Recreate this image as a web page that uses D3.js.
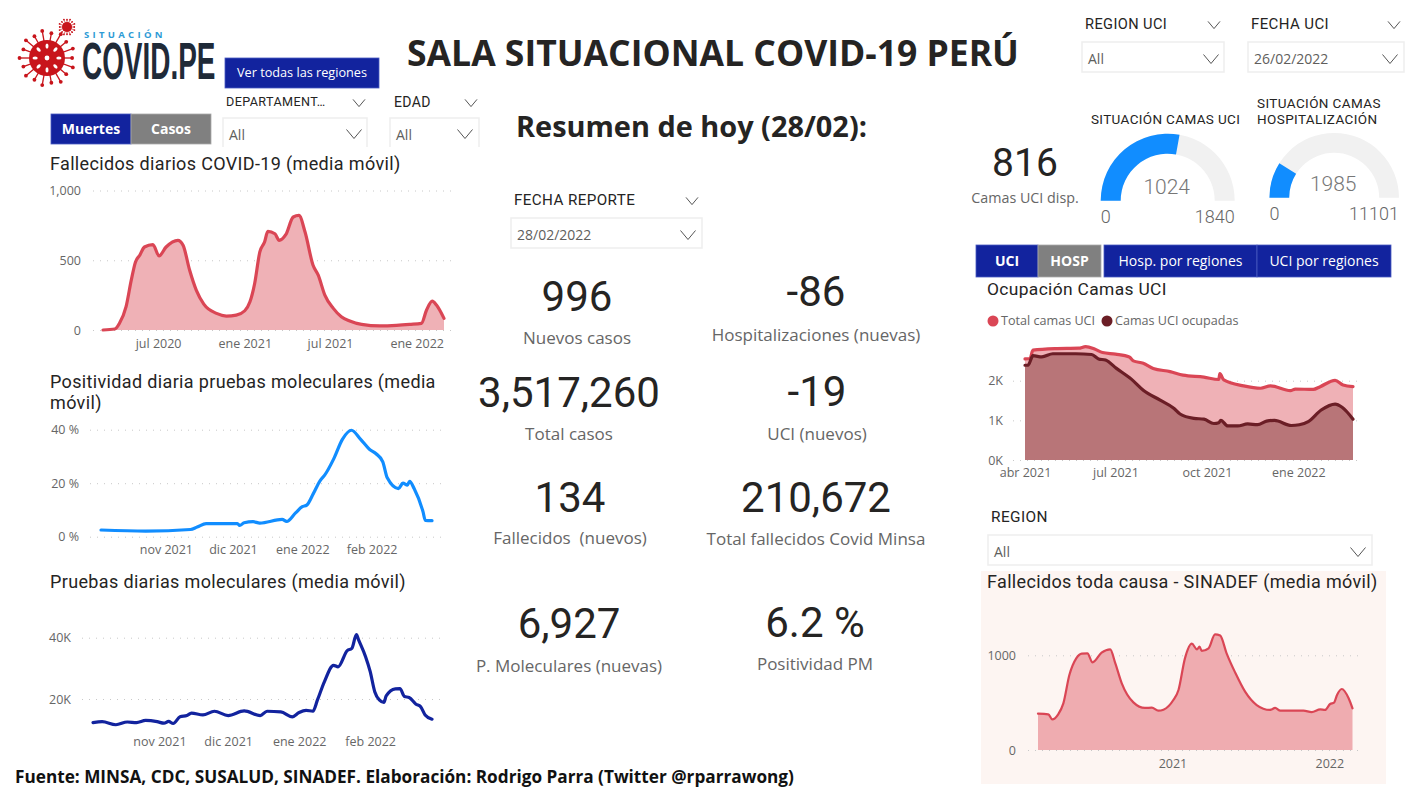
<!DOCTYPE html>
<meta charset="utf-8">
<style>
  html, body { margin: 0; background: #fff; overflow: hidden; }
  text { font-family: "Open Sans", "Noto Sans", sans-serif; }
  .din { font-family: Roboto, sans-serif; }
  .axis text { font-family: "Open Sans", sans-serif; font-size: 12.5px; fill: #666; }
  .axis .domain { display: none; }
</style>
<body>
<svg id="sala" width="1418" height="794"></svg>
<script src="https://d3js.org/d3.v7.min.js"></script>
<script>
// Fallecidos diarios COVID-19
const muertesFechas = ["2020-03-06","2020-03-31","2020-04-10","2020-04-24","2020-05-05","2020-05-14","2020-05-23","2020-06-02","2020-06-20","2020-07-03","2020-07-18","2020-08-12","2020-08-23","2020-09-06","2020-09-20","2020-10-06","2020-11-02","2020-11-23","2020-12-14","2021-01-01","2021-01-12","2021-01-22","2021-02-02","2021-02-12","2021-02-19","2021-03-06","2021-03-15","2021-03-29","2021-04-14","2021-04-26","2021-05-09","2021-05-26","2021-06-06","2021-06-20","2021-07-08","2021-07-25","2021-08-12","2021-09-06","2021-10-15","2021-11-19","2021-12-17","2022-01-11","2022-01-22","2022-02-03","2022-02-12","2022-02-28"];
const muertesValores = [0,7,48,167,357,488,536,595,612,531,595,643,607,428,286,186,119,100,107,138,202,333,560,631,707,690,643,683,810,821,702,464,393,250,155,95,64,40,29,33,40,48,143,207,179,83];

// Positividad pruebas moleculares
const positividadFechas = ["2021-10-03","2021-10-23","2021-11-12","2021-11-15","2021-11-19","2021-12-03","2021-12-04","2021-12-06","2021-12-10","2021-12-13","2021-12-23","2021-12-25","2021-12-29","2022-01-01","2022-01-03","2022-01-06","2022-01-09","2022-01-11","2022-01-15","2022-01-19","2022-01-23","2022-01-27","2022-01-31","2022-02-03","2022-02-06","2022-02-08","2022-02-13","2022-02-15","2022-02-17","2022-02-18","2022-02-20","2022-02-24","2022-02-25","2022-02-28"];
const positividadValores = [2.5,2.1,2.7,3.6,4.9,4.9,4.2,5.2,5.6,5.1,6.5,5.7,8.9,11.2,11.8,16.2,21,23,29,36.5,39.8,36.5,32.7,31,28,22,18,20,19.3,20.7,18,9.3,6.1,6];

// Pruebas diarias moleculares
const pruebasFechas = ["2021-10-03","2021-10-07","2021-10-13","2021-10-18","2021-10-22","2021-10-26","2021-10-31","2021-11-03","2021-11-05","2021-11-07","2021-11-10","2021-11-13","2021-11-15","2021-11-20","2021-11-25","2021-12-01","2021-12-08","2021-12-15","2021-12-18","2021-12-24","2021-12-29","2022-01-01","2022-01-04","2022-01-07","2022-01-09","2022-01-12","2022-01-16","2022-01-18","2022-01-22","2022-01-24","2022-01-26","2022-01-27","2022-01-30","2022-02-01","2022-02-03","2022-02-05","2022-02-07","2022-02-08","2022-02-12","2022-02-14","2022-02-16","2022-02-18","2022-02-21","2022-02-23","2022-02-25","2022-02-28"];
const pruebasValores = [12300,12600,11600,12500,12300,13000,12600,12100,12700,12000,14200,14600,15400,14800,16000,14600,16100,14600,16000,15800,14200,15600,16300,16000,19700,25600,31000,30500,35800,36500,41000,39200,33800,29000,22400,19700,18900,21000,23300,23400,20800,20500,18300,17500,14800,13400];

// Ocupación camas UCI
const totalUciFechas = ["2021-04-01","2021-04-06","2021-04-09","2021-05-01","2021-05-25","2021-06-01","2021-06-10","2021-06-18","2021-07-01","2021-07-15","2021-07-19","2021-07-29","2021-08-08","2021-08-25","2021-09-07","2021-09-28","2021-10-13","2021-10-14","2021-10-18","2021-11-07","2021-11-24","2021-12-04","2021-12-24","2021-12-29","2022-01-16","2022-01-23","2022-02-07","2022-02-15","2022-02-25"];
const totalUciValores = [2550,2560,2770,2810,2820,2860,2800,2710,2670,2600,2500,2440,2310,2230,2140,2090,2030,2180,2020,1870,1810,1870,1750,1790,1780,1850,2010,1890,1850];
const ocupadasFechas = ["2021-04-01","2021-04-04","2021-04-09","2021-04-18","2021-04-29","2021-05-22","2021-06-07","2021-06-14","2021-06-21","2021-07-02","2021-07-17","2021-07-29","2021-08-15","2021-08-29","2021-09-04","2021-09-18","2021-09-28","2021-10-08","2021-10-13","2021-10-15","2021-10-22","2021-11-01","2021-11-11","2021-11-21","2021-11-30","2021-12-08","2021-12-25","2022-01-02","2022-01-11","2022-01-24","2022-02-07","2022-02-14","2022-02-25"];
const ocupadasValores = [2390,2390,2630,2600,2680,2680,2660,2550,2520,2310,2040,1760,1510,1300,1160,1050,1030,920,940,1000,860,860,910,890,980,1000,870,890,970,1260,1410,1330,1030];

// Fallecidos toda causa SINADEF
const sinadefFechas = ["2020-02-23","2020-03-18","2020-03-27","2020-04-10","2020-04-22","2020-05-06","2020-05-22","2020-06-04","2020-06-17","2020-06-29","2020-07-20","2020-08-09","2020-08-21","2020-09-05","2020-10-02","2020-10-29","2020-11-14","2020-11-29","2020-12-11","2021-01-03","2021-01-15","2021-01-30","2021-02-15","2021-02-27","2021-03-05","2021-03-10","2021-03-26","2021-04-10","2021-04-22","2021-05-07","2021-05-27","2021-06-19","2021-07-16","2021-08-16","2021-08-28","2021-09-09","2021-11-02","2021-11-21","2021-12-11","2021-12-22","2022-01-03","2022-01-12","2022-01-19","2022-01-30","2022-02-15","2022-02-24"];
const sinadefValores = [384,377,324,377,493,792,968,1018,1021,926,1028,1063,915,704,503,444,447,415,426,528,634,968,1123,1063,1092,1046,1074,1222,1208,1021,817,616,475,423,444,415,415,401,430,423,486,500,581,644,546,440];

const NAVY = "#12239E", GREY_BTN = "#808080", BLUE = "#118DFF";
const RED = "#DA4655", DARK = "#6B1E26";

const parse = d3.timeParse("%Y-%m-%d");
const svg = d3.select("#sala");

function label(x, y, str, size, opts) {
  opts = opts || {};
  const middle = !opts.base;
  return svg.append("text")
    .attr("x", x).attr("y", middle ? y + 2 : y)
    .attr("class", opts.din ? "din" : null)
    .attr("text-anchor", opts.anchor || "start")
    .attr("dominant-baseline", opts.base || "middle")
    .attr("font-size", size)
    .attr("font-weight", opts.weight || 400)
    .attr("letter-spacing", opts.spacing || 0)
    .attr("fill", opts.fill || "#252423")
    .text(str);
}

function chevron(x, y, w) {
  svg.append("path")
    .attr("d", d3.line()([[x - w, y - w * 0.6], [x, y + w * 0.6], [x + w, y - w * 0.6]]))
    .attr("fill", "none").attr("stroke", "#555").attr("stroke-width", 1);
}

function slicer(title, value, size, tx, ty, hx, x0, y0, x1, y1, cx, clip) {
  label(tx, ty, title, size, {din: true, spacing: 0.4, fill: "#252423"});
  if (hx) chevron(hx, ty + 2, 6);
  if (clip) {
    svg.append("path").attr("d", `M${x0},${y1} V${y0} H${x1} V${y1}`)
      .attr("fill", "none").attr("stroke", "#eee").attr("stroke-width", 1.5);
  } else {
    svg.append("rect").attr("x", x0).attr("y", y0).attr("width", x1 - x0).attr("height", y1 - y0)
      .attr("fill", "#fff").attr("stroke", "#eee").attr("stroke-width", 1.5);
  }
  label(x0 + 6, (clip ? y0 + 16 : (y0 + y1) / 2 + 1), value, 14, {fill: "#605E5C"});
  chevron(cx, (clip ? y0 + 16 : (y0 + y1) / 2 + 2), 7.5);
}

function button(x0, y0, x1, y1, str, fill, weight, size) {
  svg.append("rect").attr("x", x0).attr("y", y0).attr("width", x1 - x0).attr("height", y1 - y0)
    .attr("fill", fill).attr("stroke", fill === NAVY ? "#4a5bc0" : "#aaa").attr("stroke-width", 0.8);
  label((x0 + x1) / 2, (y0 + y1) / 2 - 1, str, size || 14, {anchor: "middle", fill: "#fff", weight: weight || 400});
}

// Chart frame: axes with dotted gridlines, returns scales
function frame(c) {
  const x = d3.scaleTime().domain(c.xDomain.map(parse)).range(c.xRange);
  const y = d3.scaleLinear().domain(c.yDomain).range(c.yRange);
  const yAxis = d3.axisLeft(y).tickValues(c.yTicks).tickFormat((d, i) => c.yLabels[i]).tickSize(0).tickPadding(0);
  const gy = svg.append("g").attr("class", "axis").attr("transform", `translate(${c.yLabelX},0)`).call(yAxis);
  gy.selectAll(".tick").append("line")
    .attr("x1", c.gridX[0] - c.yLabelX).attr("x2", c.gridX[1] - c.yLabelX)
    .attr("stroke", "#c8c8c8").attr("stroke-width", 1).attr("stroke-dasharray", "1,6");
  const xAxis = d3.axisBottom(x).tickValues(c.xTicks.map(parse)).tickFormat((d, i) => c.xLabels[i]).tickSize(0).tickPadding(0);
  svg.append("g").attr("class", "axis").attr("transform", `translate(0,${c.xLabelY})`).call(xAxis);
  return {x, y};
}

function serie(s, fechas, valores, color, fill, width) {
  const pts = fechas.map((f, i) => [parse(f), valores[i]]);
  const base = s.y(0);
  if (fill) {
    svg.append("path").datum(pts)
      .attr("d", d3.area().x(d => s.x(d[0])).y0(base).y1(d => s.y(d[1])).curve(d3.curveMonotoneX))
      .attr("fill", fill);
  }
  svg.append("path").datum(pts)
    .attr("d", d3.line().x(d => s.x(d[0])).y(d => s.y(d[1])).curve(d3.curveMonotoneX))
    .attr("fill", "none").attr("stroke", color).attr("stroke-width", width)
    .attr("stroke-linejoin", "round").attr("stroke-linecap", "round");
}

// logo
function virus(cx, cy, r, spikes, len, dot) {
  const g = svg.append("g").attr("transform", `translate(${cx},${cy})`).attr("fill", "#C8141B").attr("stroke", "#C8141B");
  d3.range(spikes).forEach(i => {
    const a = i / spikes * 2 * Math.PI, l = i % 2 ? len : len * 0.75;
    g.append("line").attr("x1", 0).attr("y1", 0).attr("stroke-width", dot * 0.7)
      .attr("x2", Math.cos(a) * (r + l)).attr("y2", Math.sin(a) * (r + l));
    g.append("circle").attr("r", dot).attr("stroke", "none")
      .attr("cx", Math.cos(a) * (r + l)).attr("cy", Math.sin(a) * (r + l));
  });
  g.append("circle").attr("r", r).attr("stroke", "none");
  if (r > 10) {
    d3.range(8).forEach(i => {
      g.append("ellipse").attr("rx", 2.6).attr("ry", 1.5).attr("fill", "#fff").attr("stroke", "none")
        .attr("transform", `rotate(${i * 45}) translate(${r * 0.66},0)`);
    });
    g.append("circle").attr("r", 2.4).attr("fill", "#fff").attr("stroke", "none");
  }
}
virus(47, 58, 18, 18, 9.5, 1.9);
virus(67, 27, 5, 16, 3, 0.9);
label(84, 33, "SITUACIÓN", 9.5, {weight: 700, fill: "#2E9BD6", spacing: 3.3});
svg.append("text").attr("transform", "translate(82,79) scale(0.846,1.55)")
  .attr("font-size", 33).attr("font-weight", 700).attr("fill", "#1F2A38")
  .style("font-family", '"Liberation Sans Narrow", "Liberation Sans", sans-serif')
  .text("COVID.PE");

// titulos
label(713, 54, "SALA SITUACIONAL COVID-19 PERÚ", 35.5, {anchor: "middle", weight: 700});
label(516, 127, "Resumen de hoy (28/02):", 28.9, {weight: 700});
label(15, 776, "Fuente: MINSA, CDC, SUSALUD, SINADEF. Elaboración: Rodrigo Parra (Twitter @rparrawong)", 17.2, {weight: 700, fill: "#111"});

// botones
button(225, 58, 379, 88, "Ver todas las regiones", NAVY, 400, 12.7);
button(51, 114, 131, 144, "Muertes", NAVY, 700);
button(131, 114, 211, 144, "Casos", GREY_BTN, 700);
button(976, 245, 1038, 277, "UCI", NAVY, 700);
button(1038, 245, 1101, 277, "HOSP", GREY_BTN, 700);
button(1104, 245, 1257, 277, "Hosp. por regiones", NAVY);
button(1257, 245, 1391, 277, "UCI por regiones", NAVY);

// slicers
slicer("REGION UCI", "All", 14.6, 1085, 23, 1214, 1082, 42, 1224, 72, 1211);
slicer("FECHA UCI", "26/02/2022", 15, 1251, 23, 1394, 1248, 42, 1404, 72, 1390);
slicer("DEPARTAMENT…", "All", 12.6, 226, 101, 359, 223, 118, 367, 147, 354, true);
slicer("EDAD", "All", 14, 394, 101, 471, 390, 118, 479, 147, 465, true);
slicer("FECHA REPORTE", "28/02/2022", 15.2, 514, 199, 692, 511, 218, 702, 248, 688);
slicer("REGION", "All", 15.4, 991, 516, null, 988, 535, 1372, 565, 1358);

// tarjetas
const tarjetaValores = ["996", "-86", "3,517,260", "-19", "134", "210,672", "6,927", "6.2 %", "816"];
const tarjetaEtiquetas = ["Nuevos casos", "Hospitalizaciones (nuevas)", "Total casos", "UCI (nuevos)", "Fallecidos  (nuevos)", "Total fallecidos Covid Minsa", "P. Moleculares (nuevas)", "Positividad PM", "Camas UCI disp."];
const tarjetaX = [577, 816, 569, 817, 570, 816, 569, 815, 1025];
const tarjetaY = [311, 306, 407, 406, 512, 512, 638, 637, 176];
const etiquetaY = [339, 336, 435, 435, 539, 540, 667, 665, 199];
tarjetaValores.forEach((v, i) => {
  const small = i === 8;
  label(tarjetaX[i], tarjetaY[i], v, small ? 39 : 42, {din: true, anchor: "middle", base: "alphabetic", fill: "#252423"});
  svg.append("text").attr("x", tarjetaX[i]).attr("y", etiquetaY[i])
    .attr("text-anchor", "middle").attr("dominant-baseline", "middle")
    .attr("font-size", small ? 14.3 : 17).attr("fill", "#666")
    .style("white-space", "pre").text(tarjetaEtiquetas[i]);
});

// Fallecidos diarios
label(50, 163, "Fallecidos diarios COVID-19 (media móvil)", 18, {din: true, spacing: 0.35});
const c1 = frame({
  xDomain: ["2020-03-06", "2022-02-28"], xRange: [103, 444],
  yDomain: [0, 1000], yRange: [330, 190.5],
  yTicks: [0, 500, 1000], yLabels: ["0", "500", "1,000"], yLabelX: 81, gridX: [93, 451],
  xTicks: ["2020-07-01", "2021-01-01", "2021-07-01", "2022-01-01"],
  xLabels: ["jul 2020", "ene 2021", "jul 2021", "ene 2022"], xLabelY: 339
});
serie(c1, muertesFechas, muertesValores, RED, "#EFB1B6", 3.2);

// Positividad
label(50, 381, "Positividad diaria pruebas moleculares (media", 18, {din: true, spacing: 0.35});
label(50, 402, "móvil)", 18, {din: true, spacing: 0.35});
const c2 = frame({
  xDomain: ["2021-10-03", "2022-02-28"], xRange: [101, 432],
  yDomain: [0, 40], yRange: [536.7, 429.7],
  yTicks: [0, 20, 40], yLabels: ["0 %", "20 %", "40 %"], yLabelX: 79, gridX: [90, 443],
  xTicks: ["2021-11-01", "2021-12-01", "2022-01-01", "2022-02-01"],
  xLabels: ["nov 2021", "dic 2021", "ene 2022", "feb 2022"], xLabelY: 545
});
serie(c2, positividadFechas, positividadValores, BLUE, null, 3.2);

// Pruebas
label(50, 581, "Pruebas diarias moleculares (media móvil)", 18, {din: true, spacing: 0.35});
const c3 = frame({
  xDomain: ["2021-10-03", "2022-02-28"], xRange: [93, 432],
  yDomain: [20000, 40000], yRange: [699, 637.7],
  yTicks: [20000, 40000], yLabels: ["20K", "40K"], yLabelX: 71, gridX: [82, 443],
  xTicks: ["2021-11-01", "2021-12-01", "2022-01-01", "2022-02-01"],
  xLabels: ["nov 2021", "dic 2021", "ene 2022", "feb 2022"], xLabelY: 737
});
serie(c3, pruebasFechas, pruebasValores, NAVY, null, 3.2);

// Gauges
const gaugeValores = [1024, 1985], gaugeMaximos = [1840, 11101];
const gaugeX = [1167.7, 1334.2], gaugeY = [200.7, 197.7], gaugeR = [[47, 67], [45, 64.8]];
gaugeValores.forEach((v, i) => {
  const ang = d3.scaleLinear().domain([0, gaugeMaximos[i]]).range([-Math.PI / 2, Math.PI / 2]);
  const arc = d3.arc().innerRadius(gaugeR[i][0]).outerRadius(gaugeR[i][1]);
  const g = svg.append("g").attr("transform", `translate(${gaugeX[i]},${gaugeY[i]})`);
  g.append("path").attr("d", arc({startAngle: ang(0), endAngle: ang(gaugeMaximos[i])})).attr("fill", "#F1F1F1");
  g.append("path").attr("d", arc({startAngle: ang(0), endAngle: ang(v)})).attr("fill", BLUE);
  label(gaugeX[i] - 1, gaugeY[i] - 14, v, 21, {din: true, anchor: "middle", fill: "#777", weight: 300});
  label(gaugeX[i] - gaugeR[i][1] + 5, gaugeY[i] + 16, "0", 18, {din: true, anchor: "middle", fill: "#666", weight: 300});
  label(gaugeX[i] + gaugeR[i][1], gaugeY[i] + 16, gaugeMaximos[i], 18, {din: true, anchor: "end", fill: "#666", weight: 300});
});
label(1091, 118, "SITUACIÓN CAMAS UCI", 13.5, {din: true, spacing: 0.35});
label(1257, 102, "SITUACIÓN CAMAS", 13.5, {din: true, spacing: 0.4});
label(1257, 118, "HOSPITALIZACIÓN", 13.5, {din: true, spacing: 0.4});

// Ocupación UCI
label(987, 288, "Ocupación Camas UCI", 17.4, {din: true, spacing: 0.35});
const c4 = frame({
  xDomain: ["2021-04-01", "2022-02-25"], xRange: [1025, 1353],
  yDomain: [0, 2000], yRange: [460, 380.7],
  yTicks: [0, 1000, 2000], yLabels: ["0K", "1K", "2K"], yLabelX: 1003, gridX: [1013, 1359],
  xTicks: ["2021-04-01", "2021-07-01", "2021-10-01", "2022-01-01"],
  xLabels: ["abr 2021", "jul 2021", "oct 2021", "ene 2022"], xLabelY: 468
});
serie(c4, totalUciFechas, totalUciValores, RED, "#EFB1B6", 3.2);
serie(c4, ocupadasFechas, ocupadasValores, DARK, "#B87578", 3.2);

const leyendaNombres = ["Total camas UCI", "Camas UCI ocupadas"];
const leyendaColores = [RED, DARK], leyendaX = [993, 1107];
leyendaNombres.forEach((n, i) => {
  svg.append("circle").attr("cx", leyendaX[i]).attr("cy", 321).attr("r", 5.5).attr("fill", leyendaColores[i]);
  label(leyendaX[i] + 8, 320, n, 12.6, {fill: "#666"});
});

// SINADEF
svg.append("rect").attr("x", 981).attr("y", 571).attr("width", 405).attr("height", 213).attr("fill", "#FDF5F2");
label(987, 581, "Fallecidos toda causa - SINADEF (media móvil)", 18, {din: true, spacing: 0.35});
const c5 = frame({
  xDomain: ["2020-02-23", "2022-02-24"], xRange: [1038, 1352.5],
  yDomain: [0, 1000], yRange: [750, 655.3],
  yTicks: [0, 1000], yLabels: ["0", "1000"], yLabelX: 1016, gridX: [1028, 1360],
  xTicks: ["2021-01-01", "2022-01-01"],
  xLabels: ["2021", "2022"], xLabelY: 759
});
serie(c5, sinadefFechas, sinadefValores, RED, "#EFACB0", 2.2);
</script>
</body>
